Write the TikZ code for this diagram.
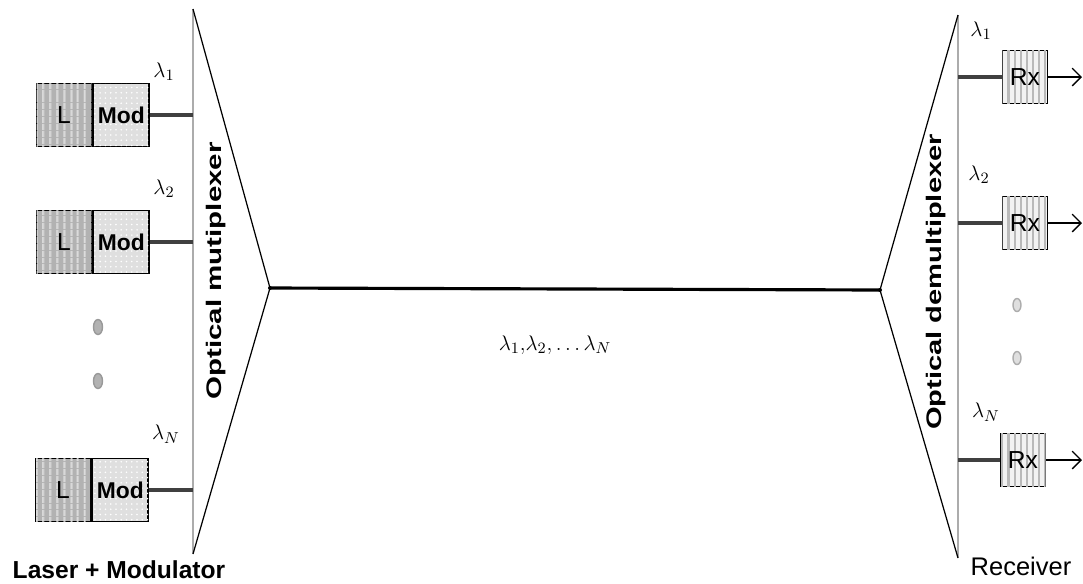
\documentclass[tikz,border=0pt]{standalone}
\usepackage{fontspec}
\setmainfont{Liberation Sans}
\usepackage{amsmath,amssymb}
\usetikzlibrary{positioning,patterns,patterns.meta,arrows.meta,shapes.geometric}

\begin{document}
\begin{tikzpicture}[x=0.02cm, y=-0.02cm,
  lbox/.style={draw, line width=1pt, minimum width=1.1cm, minimum height=1.26cm, inner sep=0pt, fill=gray!60, postaction={pattern={Lines[angle=90, distance=4pt, line width=1.1pt]}, pattern color=gray!25}, font=\fontsize{14}{14}\selectfont},
  modbox/.style={draw, line width=1pt, minimum width=1.12cm, minimum height=1.26cm, inner sep=0pt, fill=gray!25, postaction={pattern=dots, pattern color=white}, font=\fontsize{13}{13}\selectfont\bfseries},
  rxbox/.style={draw, line width=1pt, minimum width=0.9cm, minimum height=1.06cm, inner sep=0pt, fill=gray!10, postaction={pattern={Lines[angle=90, distance=3.5pt, line width=1.2pt]}, pattern color=gray!55}, font=\fontsize{14}{14}\selectfont},
  link/.style={line width=2pt, draw=black!75},
  bar/.style={line width=1.4pt, draw=gray!65},
  mux/.style={line width=0.7pt},
  lam/.style={font=\fontsize{13}{13}\selectfont},
  dot/.style={ellipse, minimum width=0.18cm, minimum height=0.3cm, inner sep=0pt, draw=gray!80, line width=0.8pt},
  tag/.style={rotate=90, font=\fontsize{12}{12}\selectfont\bfseries}]
\useasboundingbox (0,0) rectangle (1083,583);

\coordinate (mt) at (193,9);
\coordinate (mb) at (193,554);
\coordinate (mtip) at (270,288);
\coordinate (dt) at (958,15);
\coordinate (db) at (958,558);
\coordinate (dtip) at (880,290);

\node[lbox](L1) at (64,115){L};
\node[modbox, right=0pt of L1](M1){Mod};
\node[lbox](L2) at (64,242){L};
\node[modbox, right=0pt of L2](M2){Mod};
\node[lbox](L3) at (63,490){L};
\node[modbox, right=0pt of L3](M3){Mod};
\coordinate (m1) at (193,115);
\coordinate (m2) at (193,242);
\coordinate (m3) at (193,490);

\node[rxbox](R1) at (1025,77){Rx};
\node[rxbox](R2) at (1025,223){Rx};
\node[rxbox](R3) at (1023,460){Rx};
\coordinate (d1) at (958,77);
\coordinate (d2) at (958,223);
\coordinate (d3) at (958,460);
\coordinate (o1) at (1082,77);
\coordinate (o2) at (1082,223);
\coordinate (o3) at (1082,460);

\node[lam] at (164,72){$\lambda_1$};
\node[lam] at (164,189){$\lambda_2$};
\node[lam] at (166,434){$\lambda_N$};
\node[lam] at (981,31){$\lambda_1$};
\node[lam] at (979,175){$\lambda_2$};
\node[lam] at (986,412){$\lambda_N$};
\node[lam] at (555,345){$\lambda_1{,}\lambda_2{,}\ldots\lambda_N$};

\node[dot, fill=gray!60](a1) at (98,327){};
\node[dot, fill=gray!60](a2) at (98,381){};
\node[dot, fill=gray!25, draw=gray!65, minimum width=0.16cm, minimum height=0.26cm](b1) at (1017,305){};
\node[dot, fill=gray!25, draw=gray!65, minimum width=0.16cm, minimum height=0.26cm](b2) at (1017,358){};

\node[tag](T1) at (216,271){\scalebox{1.4}[1]{Optical mutiplexer}};
\node[tag](T2) at (936,282){\scalebox{1.38}[1]{Optical demultiplexer}};
\node[font=\fontsize{14}{14}\selectfont\bfseries](T3) at (119,570){Laser + Modulator};
\node[font=\fontsize{14.5}{14.5}\selectfont](T4) at (1021,566){Receiver};

\draw[bar] (mt) -- (mb);
\draw[mux] (mt) -- (mtip) -- (mb);
\draw[bar] (dt) -- (db);
\draw[mux] (dt) -- (dtip) -- (db);
\draw[line width=1.8pt] (mtip) -- (dtip);
\fill (mtip) circle (2);
\fill (dtip) circle (2);

\draw[link] (M1) -- (m1);
\draw[link] (M2) -- (m2);
\draw[link] (M3) -- (m3);
\draw[link] (d1) -- (R1);
\draw[link] (d2) -- (R2);
\draw[link] (d3) -- (R3);
\draw[-{Straight Barb[length=5pt]}, line width=0.8pt] (R1) -- (o1);
\draw[-{Straight Barb[length=5pt]}, line width=0.8pt] (R2) -- (o2);
\draw[-{Straight Barb[length=5pt]}, line width=0.8pt] (R3) -- (o3);
\end{tikzpicture}
\end{document}
